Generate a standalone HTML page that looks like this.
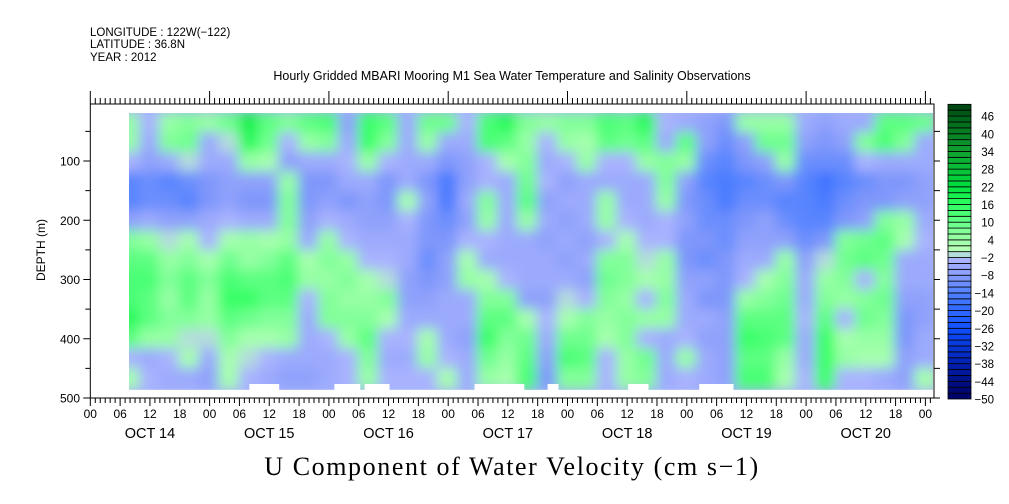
<!DOCTYPE html>
<html><head><meta charset="utf-8"><style>
html,body{margin:0;padding:0;background:#fff;}
svg{display:block;font-family:"Liberation Sans",sans-serif;}
</style></head><body>
<svg id="chart" width="1009" height="504" viewBox="0 0 1009 504" xmlns="http://www.w3.org/2000/svg">
<defs>
<filter id="soft" filterUnits="userSpaceOnUse" x="100" y="90" width="860" height="320"><feGaussianBlur stdDeviation="6"/></filter>
<clipPath id="dclip"><rect x="129" y="113" width="804" height="276.7"/></clipPath>
</defs>
<g font-size="11.5" fill="#000">
<text x="90" y="36">LONGITUDE : 122W(−122)</text>
<text x="90" y="48">LATITUDE : 36.8N</text>
<text x="90" y="61">YEAR : 2012</text>
</g>
<text x="512" y="80" font-size="12.5" text-anchor="middle">Hourly Gridded MBARI Mooring M1 Sea Water Temperature and Salinity Observations</text>
<g id="heat" clip-path="url(#dclip)"><rect x="129" y="113" width="804" height="277" fill="#a8b4f8"/><g id="cells" filter="url(#soft)"></g></g>
<g id="gaps"></g>
<g id="axes" stroke="#000" fill="none" stroke-width="1"></g>
<g id="labels" font-size="12" fill="#000"></g>
<text transform="translate(45,250) rotate(-90)" font-size="12" text-anchor="middle">DEPTH (m)</text>
<text x="512" y="475" font-size="26" text-anchor="middle" font-family="Liberation Serif, serif" letter-spacing="1.6">U Component of Water Velocity (cm s−1)</text>
<g id="cbar"></g>
</svg>
<script>
// Data: time columns (hours from OCT 14 00), depth rows (m), values (cm/s)
const hourStart = 8, hourStep = 4;
const depthStart = 20, depthStep = 33.14;
const rowDepths = [0,1,2,3,4,5,6,7,8,9,10,11,12,13];
const cols = [
[4,4,-4,-14,-14,-8,6,10,12,12,16,10,-4,2],
[-4,-6,-8,-12,-12,-6,4,10,12,10,10,4,-6,-4],
[4,6,-6,-14,-12,-8,-2,4,6,4,6,4,-4,-6],
[6,8,-2,-12,-14,-8,2,6,10,10,6,-2,2,-6],
[4,-6,-6,-10,-10,-6,-4,2,6,4,4,-2,-6,-8],
[8,-2,-6,-8,-8,-4,2,8,12,14,10,6,2,2],
[18,16,4,-8,-10,-6,4,4,10,14,8,2,-2,-4],
[10,8,2,-8,-10,-6,2,6,10,10,6,2,-4,-6],
[6,-4,-8,4,6,6,4,10,12,10,6,4,-6,-8],
[10,4,-6,-10,-10,-8,-6,2,4,-4,-6,-6,-6,-8],
[12,6,-6,-10,-8,-4,4,6,4,6,6,-4,-6,-6],
[-8,-6,-4,-6,-10,-6,-4,4,6,4,6,4,-4,-4],
[14,14,4,-6,-8,-8,-6,-4,2,4,6,10,6,4],
[10,6,-4,-10,-10,-8,-6,-4,-2,6,2,-4,-6,-4],
[-6,-6,-6,-6,2,-4,-6,-6,-8,-8,-6,-4,-6,-4],
[8,4,-6,-10,-8,-10,-10,-12,-10,-8,-6,2,4,-4],
[8,-6,-10,-16,-16,-12,-10,-8,-8,-6,-6,-6,-4,2],
[-4,-6,-8,-8,-6,-8,-4,2,4,-6,-6,-8,-6,-6],
[12,12,-4,-4,6,4,-4,-6,2,6,10,14,8,4],
[16,10,2,-6,-6,-6,-6,-6,-4,6,10,6,4,2],
[6,4,6,8,10,4,-6,-6,-6,-8,2,8,10,12],
[4,-4,-6,-4,-8,-6,-8,-6,-6,-8,-4,-6,-8,-10],
[6,4,-4,-8,-6,-8,-6,-8,-6,-2,2,8,12,6],
[6,2,4,-6,-6,-6,-8,-6,-8,-4,6,8,10,6],
[12,10,-4,-6,4,4,-4,6,8,6,4,2,-4,-4],
[10,8,-4,-6,-6,-4,2,6,6,4,6,6,4,4],
[16,10,4,-6,-6,-6,-4,-2,2,-4,4,-4,8,6],
[-4,-6,6,6,4,-4,-4,4,4,6,4,-6,-6,-6],
[-6,10,4,-8,-10,-8,-10,-10,-8,-6,-6,-4,4,-4],
[-8,-8,-12,-14,-12,-12,-10,-12,-8,-10,-6,-8,-6,-6],
[-10,-12,-14,-16,-16,-12,-12,-10,-10,-10,-8,-8,-8,-8],
[4,-8,-10,-14,-12,-10,-8,-6,-4,4,10,14,10,12],
[4,8,-8,-12,-12,-8,-8,-6,2,6,10,12,10,12],
[4,8,4,-10,-14,-12,-8,4,6,8,10,10,4,2],
[-6,-8,-12,-14,-14,-14,-12,-8,-6,-6,-4,-6,-6,-4],
[-8,-10,-12,-18,-16,-14,-10,-2,4,6,10,14,14,14],
[-6,-8,-12,-14,-12,-10,6,8,6,4,-4,2,4,-4],
[-6,6,-4,-12,-10,-8,8,10,-4,6,8,4,2,-4],
[10,12,-6,-10,-10,6,10,8,6,8,6,4,2,-6],
[10,6,-6,-10,-8,4,2,-6,-6,-8,-10,-10,-8,-8],
[8,-6,-6,-8,-8,-6,-4,-6,-6,-8,-8,-6,-6,2]
];
const gapStartHours = [32.0, 49.1, 55.2, 77.3, 92.0, 108.2, 122.5];
const gapEndHours   = [38.0, 54.3, 60.2, 87.3, 94.2, 112.3, 129.4];
const cbarLevels = [46,40,34,28,22,16,10,4,-2,-8,-14,-20,-26,-32,-38,-44,-50];
const dayLabels = ["OCT 14","OCT 15","OCT 16","OCT 17","OCT 18","OCT 19","OCT 20"];
const hourTickLabels = ["00","06","12","18"];
const depthTicks = [100,200,300,400,500];

const NS="http://www.w3.org/2000/svg";
const X0=90.3, PXH=119.3/24;
const xs = h => X0 + h*PXH;
const Y100=161, PXM=(398-161)/400;
const ys = d => Y100 + (d-100)*PXM;
function mk(tag, attrs, parent){const e=document.createElementNS(NS,tag);for(const k in attrs)e.setAttribute(k,attrs[k]);parent.appendChild(e);return e;}

const anchors=[[-50,[0,0,96]],[-38,[0,32,176]],[-26,[16,80,255]],[-14,[80,128,255]],[-8,[136,156,250]],[-2,[176,184,255]],[0,[184,255,184]],[4,[160,255,170]],[10,[100,255,136]],[16,[48,255,96]],[22,[0,224,64]],[34,[16,160,48]],[46,[0,96,24]],[50,[0,64,16]]];
function color(v){
  let q=Math.floor(v/2)*2+1; q=Math.max(-49,Math.min(49,q));
  for(let i=0;i<anchors.length-1;i++){const a=anchors[i],b=anchors[i+1];
    if(q>=a[0]&&q<=b[0]){const t=(q-a[0])/(b[0]-a[0]);
      return "rgb("+a[1].map((c,j)=>Math.round(c+(b[1][j]-c)*t)).join(",")+")";}}
  return "#fff";
}

// heatmap cells
const cellG=document.getElementById('cells');
cols.forEach((col,ci)=>{
  const h0=hourStart+ci*hourStep-hourStep/2, h1=h0+hourStep;
  col.forEach((v,ri)=>{
    const d0=depthStart+rowDepths[ri]*depthStep, d1=d0+depthStep;
    const r=document.createElementNS(NS,'rect');
    r.setAttribute('x',xs(h0)-1);r.setAttribute('y',ys(d0)-1);
    r.setAttribute('width',xs(h1)-xs(h0)+2);r.setAttribute('height',ys(d1)-ys(d0)+2);
    r.setAttribute('fill',color(v));
    
    
    cellG.appendChild(r);
  });
});
// gaps
const gapG=document.getElementById('gaps');
gapStartHours.forEach((g,i)=>{
  const r=mk('rect',{x:xs(g),y:384,width:xs(gapEndHours[i])-xs(g),height:6,fill:'#fff'},gapG);
  
  
});

// axes
const ax=document.getElementById('axes');
const XR=934, YT=104, YB=398;
mk('rect',{x:X0,y:YT,width:XR-X0,height:YB-YT},ax);
for(let h=0;h<=171;h++){
  const x=xs(h); if(x>XR+0.5)break;
  const major=h%6===0;
  mk('line',{x1:x,x2:x,y1:YB,y2:YB+(major?8:5)},ax);
  mk('line',{x1:x,x2:x,y1:YT,y2:YT-(h%24===0?13:6)},ax);
}
for(let d=50;d<=500;d+=50){
  const y=ys(d);
  mk('line',{x1:X0,x2:X0-(d%100===0?7:5),y1:y,y2:y},ax);
  mk('line',{x1:XR,x2:XR+6,y1:y,y2:y},ax);
}
const lab=document.getElementById('labels');
for(let h=0;h<=168;h+=6){
  const t=mk('text',{x:xs(h),y:418,'text-anchor':'middle','font-size':'12'},lab);
  t.textContent=hourTickLabels[(h/6)%4];
  
  
}
dayLabels.forEach((d,i)=>{
  const t=mk('text',{x:xs(i*24+12),y:438,'text-anchor':'middle','font-size':'14.5'},lab);
  t.textContent=d;
  
  
});
depthTicks.forEach(d=>{
  const t=mk('text',{x:80,y:ys(d)+4.5,'text-anchor':'end','font-size':'12'},lab);
  t.textContent=d;
  
  
});

// colorbar
const cb=document.getElementById('cbar');
const CBT=104.3, CBB=399, CBX=948, CBW=23, per=(CBB-CBT)/100;
for(let v=-50;v<50;v+=2){
  const r=mk('rect',{x:CBX,y:CBB-(v+2+50)*per,width:CBW,height:2*per,fill:color(v+1),stroke:'#000','stroke-width':'0.8'},cb);
  
  
}
cbarLevels.forEach(v=>{
  const t=mk('text',{x:994,y:CBB-(v+50)*per+4.5,'text-anchor':'end','font-size':'11.5'},cb);
  t.textContent=v<0?('−'+(-v)):String(v);
  
  
});
</script>
</body></html>
